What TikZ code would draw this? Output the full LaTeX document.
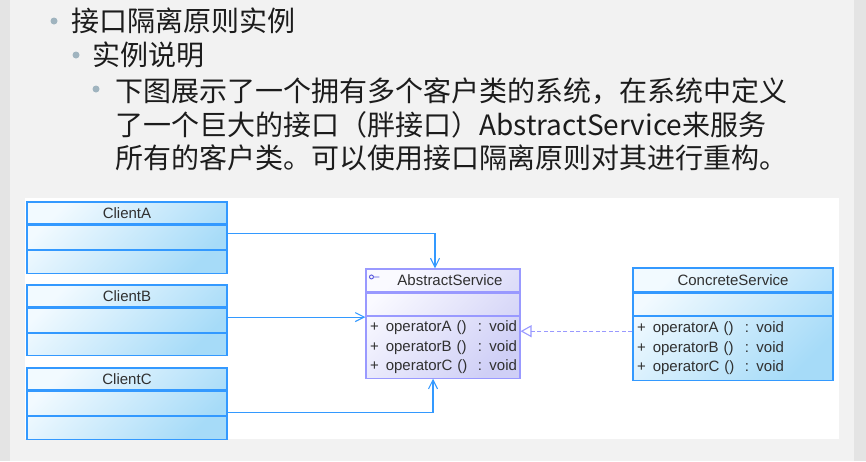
\documentclass[tikz,border=0pt]{standalone}
\usepackage{fontspec}
\setmainfont{Liberation Sans}
\newfontfamily\cjk{Noto Sans CJK SC}
\newfontfamily\umlfont{Liberation Sans}
\usepackage{tikz}
\usetikzlibrary{arrows.meta, positioning, backgrounds}

\definecolor{pagebg}{HTML}{F2F2F2}
\definecolor{edgebg}{HTML}{E4E4E4}
\definecolor{bulletc}{HTML}{A0B4BF}
\definecolor{textc}{HTML}{1C1C1C}
\definecolor{umltext}{HTML}{303030}
\definecolor{cliline}{HTML}{3399FF}
\definecolor{clitop}{HTML}{F2FAFF}
\definecolor{clibot}{HTML}{A6DBF8}
\definecolor{absline}{HTML}{9999FF}
\definecolor{abstop}{HTML}{FAFAFF}
\definecolor{absbot}{HTML}{CFCFF6}
\definecolor{iconc}{HTML}{5555DD}

\begin{document}
\begin{tikzpicture}[x=1pt,y=-1pt,node distance=0pt,
    clsbox/.style={draw=cliline,line width=1.1pt,inner sep=0pt,minimum width=200pt,
        font=\umlfont\fontsize{15}{19.5}\selectfont,text=umltext},
    absbox/.style={clsbox,draw=absline,minimum width=154pt},
    clishade/.style={top color=clitop,bottom color=clibot,shading angle=45},
    absshade/.style={top color=abstop,bottom color=absbot,shading angle=45},
    dep/.style={draw=cliline,line width=1.1pt,-{Straight Barb[length=9pt,width=9pt]}},
    real/.style={draw=absline,line width=1.4pt,dash pattern=on 4pt off 2.5pt,
        -{Triangle[open,length=11pt,width=12pt,line width=1.1pt]}}]
\useasboundingbox (0,0) rectangle (866,461);

\begin{scope}[on background layer]
    \fill[pagebg] (0,0) rectangle (866,461);
    \fill[edgebg] (0,0) rectangle (10,461);
    \fill[edgebg] (854,0) rectangle (866,461);
    \fill[white] (25,198) rectangle (839,439);
\end{scope}

% bullets
\fill[bulletc] (54,21) circle (3.5pt);
\fill[bulletc] (76,55) circle (3.5pt);
\fill[bulletc] (96,89) circle (3.5pt);

\begin{scope}[every node/.style={anchor=west,inner sep=0pt,text=textc,font=\cjk\fontsize{28}{34}\selectfont}]
    \node (title) at (71,21) {接口隔离原则实例};
    \node (sub) at (92,55) {实例说明};
    \node (lineA) at (115,91) {下图展示了一个拥有多个客户类的系统，在系统中定义};
    \node (lineB) at (115,125) {了一个巨大的接口（胖接口）AbstractService来服务};
    \node (lineC) at (115,158) {所有的客户类。可以使用接口隔离原则对其进行重构。};
\end{scope}

\begin{scope}[every node/.style={clsbox}]
    \node[minimum height=22pt] (clientA) at (127,213) {ClientA};
    \node[minimum height=24pt,below=of clientA] (clientA-att) {};
    \node[minimum height=23pt,below=of clientA-att] (clientA-op) {};

    \node[minimum height=22pt] (clientB) at (127,296) {ClientB};
    \node[minimum height=24pt,below=of clientB] (clientB-att) {};
    \node[minimum height=22pt,below=of clientB-att] (clientB-op) {};

    \node[minimum height=22pt] (clientC) at (127,379) {ClientC};
    \node[minimum height=24pt,below=of clientC] (clientC-att) {};
    \node[minimum height=23pt,below=of clientC-att] (clientC-op) {};

    \node[minimum height=24pt] (concSvc) at (733,280) {ConcreteService};
    \node[minimum height=22pt,below=of concSvc] (concSvc-att) {};
    \node[minimum height=64pt,below=of concSvc-att,text width=200pt,align=left] (concSvc-op)
        {\hspace*{4pt}+\hspace{7pt}\makebox[92pt][l]{operatorA ()}: void\\
         \hspace*{4pt}+\hspace{7pt}\makebox[92pt][l]{operatorB ()}: void\\
         \hspace*{4pt}+\hspace{7pt}\makebox[92pt][l]{operatorC ()}: void};
\end{scope}

\begin{scope}[every node/.style={absbox}]
    \node[minimum height=23pt] (absSvc) at (443,280.5) {\hspace*{14pt}AbstractService};
    \node[minimum height=22pt,below=of absSvc] (absSvc-att) {};
    \node[minimum height=62pt,below=of absSvc-att,text width=154pt,align=left] (absSvc-op)
        {\hspace*{4pt}+\hspace{7pt}\makebox[92pt][l]{operatorA ()}: void\\
         \hspace*{4pt}+\hspace{7pt}\makebox[92pt][l]{operatorB ()}: void\\
         \hspace*{4pt}+\hspace{7pt}\makebox[92pt][l]{operatorC ()}: void};
\end{scope}

\begin{scope}[on background layer]
    \shade[clishade] (clientA.north west) rectangle (clientA-op.south east);
    \shade[clishade] (clientB.north west) rectangle (clientB-op.south east);
    \shade[clishade] (clientC.north west) rectangle (clientC-op.south east);
    \shade[clishade] (concSvc.north west) rectangle (concSvc-op.south east);
    \shade[absshade] (absSvc.north west) rectangle (absSvc-op.south east);
\end{scope}

% interface icon
\draw[iconc,line width=0.9pt] ([xshift=6pt,yshift=-8.5pt]absSvc.north west) circle (2pt)
    ++(2pt,0pt) -- ++(6pt,0pt);

\path[dep] ([yshift=4pt]clientA-att.east) -| ([xshift=-8pt]absSvc.north);
\path[dep] ([yshift=3pt]clientB-att.east) -- ([yshift=3pt]clientB-att.east -| absSvc-op.west);
\path[dep] ([yshift=-9pt]clientC-att.east) -| ([xshift=-10pt]absSvc-op.south);
\path[real] ([yshift=17pt]concSvc-op.west) -- ([yshift=17pt]concSvc-op.west -| absSvc-op.east);
\end{tikzpicture}
\end{document}
